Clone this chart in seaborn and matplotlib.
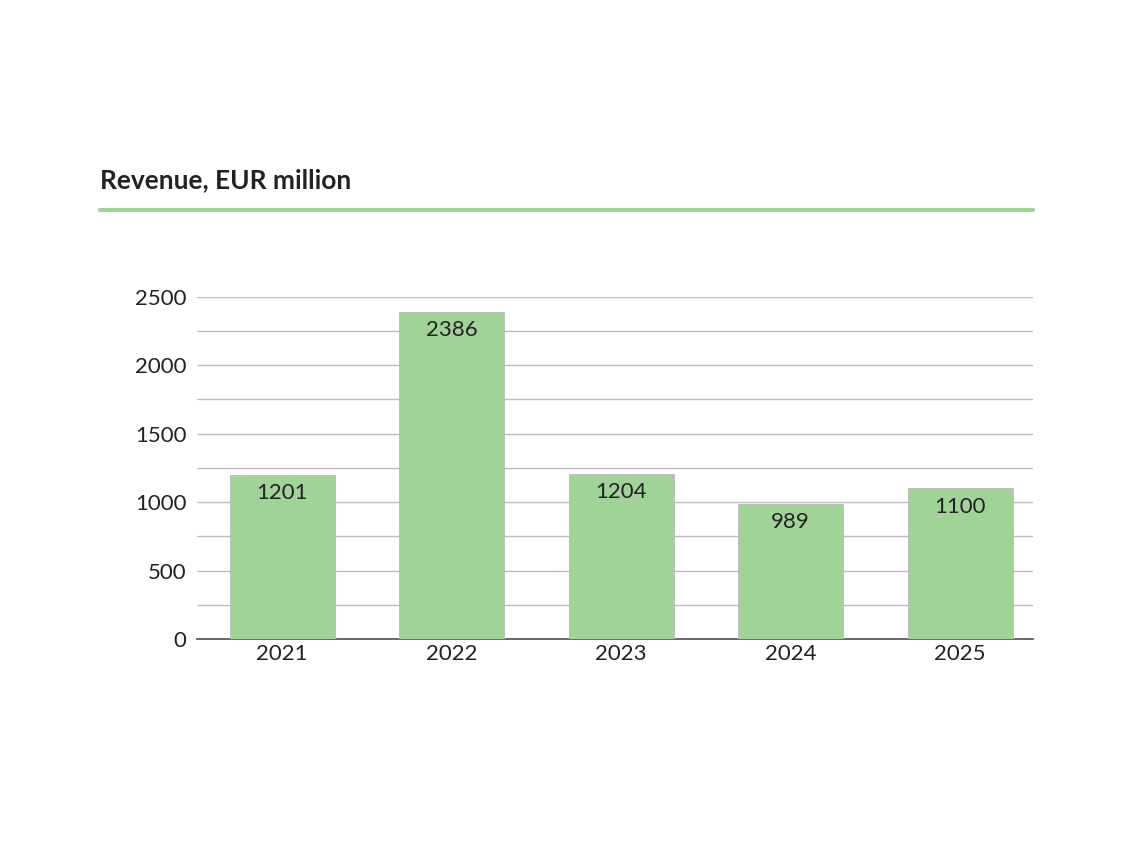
import matplotlib
matplotlib.use("Agg")
import matplotlib.pyplot as plt
import seaborn as sns
import pandas as pd

years = ["2021", "2022", "2023", "2024", "2025"]
revenue = [1201, 2386, 1204, 989, 1100]

sns.set_theme(style="white")
plt.rcParams['font.family'] = ['Lato', 'DejaVu Sans']

df = pd.DataFrame({"year": years, "revenue": revenue})
green = "#a1d399"

fig = plt.figure(figsize=(11.34, 8.5), dpi=100)
ax = fig.add_axes([0.174, 0.248, 0.737, 0.403])
sns.barplot(data=df, x="year", y="revenue", color=green, width=0.62,
            edgecolor="#bbbbbb", linewidth=0.6, saturation=1, ax=ax, zorder=3)

ax.set_ylim(0, 2500)
ax.set_xlim(-0.5, 4.43)
ax.set_yticks(range(0, 2501, 500))
ax.set_yticks(range(250, 2500, 500), minor=True)
ax.grid(axis="y", which="both", color="#bdbdbd", linewidth=1, zorder=0)
ax.set_axisbelow(True)
for s in ["top", "right", "left"]:
    ax.spines[s].set_visible(False)
ax.spines["bottom"].set_color("#555555")
ax.tick_params(axis="both", labelsize=16, colors="#222222", length=0)
ax.tick_params(axis="y", pad=8)
ax.set_xlabel("")
ax.set_ylabel("")

for i, v in enumerate(revenue):
    ax.text(i, v - 60, str(v), ha="center", va="top", fontsize=16, color="#222222", zorder=4)

fig.text(0.088, 0.788, "Revenue, EUR million", fontsize=19, fontweight="bold",
         color="#222222", va="center")
fig.add_artist(plt.Line2D([0.088, 0.911], [0.753, 0.753], color=green, linewidth=3))

fig.savefig("out.png", dpi=100)
